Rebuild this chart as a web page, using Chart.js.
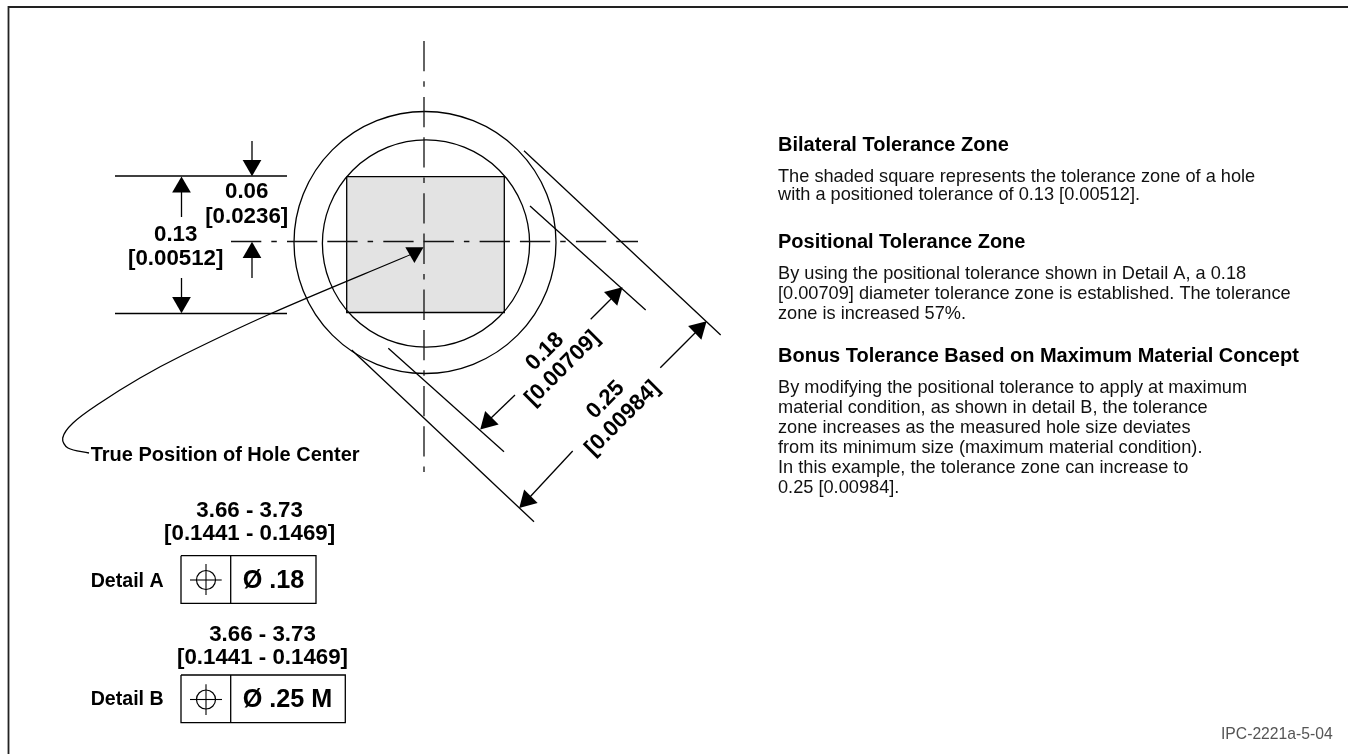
<!DOCTYPE html>
<html>
<head>
<meta charset="utf-8">
<style>html,body{margin:0;padding:0;background:#fff}canvas{display:block}</style>
<script src="https://cdn.jsdelivr.net/npm/chart.js@4/dist/chart.umd.min.js"></script>
</head>
<body>
<canvas id="c" width="1348" height="754"></canvas>
<script>
// ---- geometry, in drawing units ----
const frame = [[8.5,754],[8.5,7],[1348,7]];
const toleranceSquare = [[346.7,176.7],[504.3,176.7],[504.3,312.5],[346.7,312.5],[346.7,176.7]];
const centerLineH = [[231,241.5],[638,241.5]];
const centerLineV = [[424,41],[424,482]];
const circlesCenter = [[425,242.5]];
const innerCircleCenter = [[426,243.5]];
const extensionLines = [
  [[115,176],[287,176]], [[115,313.5],[287,313.5]],
  [[524,150.7],[720.7,335]], [[530,206],[645.7,310]],
  [[388.3,348.3],[504,451.7]], [[351.7,350],[534,521.7]]
];
const arrowStems = [
  [[252,141],[252,162]], [[252,256],[252,278]],
  [[181.5,191],[181.5,217]], [[181.5,278],[181.5,300]],
  [[590.7,319.3],[612,298]], [[515,395],[490,419]],
  [[660.3,367.7],[697,331]], [[572.7,451],[529,498]]
];
const leaderCurve = [[412,254],[270,314],[183,355],[140,378],[100,403],[73,423],[62.7,438],[68,448],[89,453]];
const arrowsDown = [[252,165.5],[181.5,302.5]];
const arrowsUp = [[252,252.5],[181.5,187.2]];
const arrowsUpRight = [[614.6,295],[698.7,329]];
const arrowsDownLeft = [[488,421.6],[527,500.1]];
const arrowLeader = [[414.4,252.4]];
const boxA = [[181,555.7],[316,555.7],[316,603.3],[181,603.3],[181,555.7]];
const boxB = [[181,675],[345.3,675],[345.3,722.7],[181,722.7],[181,675]];
const boxDividers = [[[230.7,555.7],[230.7,603.3]],[[230.7,675],[230.7,722.7]]];
const symbolCenters = [[206,580],[206,699.5]];
const symbolCross = [
  [[190,580],[221.7,580]], [[206,564],[206,595]],
  [[190,699.5],[222,699.5]], [[206,684.3],[206,715]]
];

// ---- text ----
const boldLabels = ["0.06","[0.0236]","0.13","[0.00512]","3.66 - 3.73","[0.1441 - 0.1469]","3.66 - 3.73","[0.1441 - 0.1469]"];
const boldLabelPos = [[246.7,198],[246.7,222.5],[175.7,240.7],[175.7,265],[249.6,516.7],[249.6,540],[262.5,640.7],[262.5,664.3]];
const rotatedLabels = ["0.18","[0.00709]","0.25","[0.00984]"];
const rotatedLabelPos = [[545,351.7],[562.7,368.3],[605.7,400],[622.7,418.3]];
const calloutLabels = ["True Position of Hole Center"];
const calloutPos = [[90.7,460.7]];
const detailLabels = ["Detail A","Detail B"];
const detailPos = [[90.7,586.7],[90.7,705]];
const frameLabels = ["Ø .18","Ø .25 M"];
const framePos = [[242.7,587.7],[242.7,707.3]];
const headings = ["Bilateral Tolerance Zone","Positional Tolerance Zone","Bonus Tolerance Based on Maximum Material Concept"];
const headingPos = [[778,150.7],[778,248.3],[778,361.7]];
const bodyLines = [
 "The shaded square represents the tolerance zone of a hole",
 "with a positioned tolerance of 0.13 [0.00512].",
 "By using the positional tolerance shown in Detail A, a 0.18",
 "[0.00709] diameter tolerance zone is established. The tolerance",
 "zone is increased 57%.",
 "By modifying the positional tolerance to apply at maximum",
 "material condition, as shown in detail B, the tolerance",
 "zone increases as the measured hole size deviates",
 "from its minimum size (maximum material condition).",
 "In this example, the tolerance zone can increase to",
 "0.25 [0.00984]."
];
const bodyBaselines = [181.7,200,279,299,319,392.7,412.7,432.7,452.7,472.7,492.7];
const figureId = ["IPC-2221a-5-04"];
const figureIdPos = [[1221,739]];

// ---- datasets ----
const pts = a => a.map(p => ({x:p[0],y:p[1]}));
const INK = '#000';
const line = (a,extra) => Object.assign({data:pts(a),showLine:true,borderColor:INK,borderWidth:1.3,pointRadius:0,tension:0,fill:false,clip:false,order:1},extra||{});
const marker = (a,style,r,rot) => ({data:pts(a),showLine:false,pointStyle:style,pointRadius:r,pointRotation:rot,pointBackgroundColor:INK,pointBorderColor:INK,pointBorderWidth:0,clip:false,order:0});
const ring = (a,r,w) => ({data:pts(a),showLine:false,pointStyle:'circle',pointRadius:r,pointBackgroundColor:'rgba(0,0,0,0)',pointBorderColor:INK,pointBorderWidth:w,clip:false,order:1});
const DASH = [30.3,10,5.5,10.2,30.3,10];
const datasets = [
  line(toleranceSquare,{fill:'shape',backgroundColor:'#e3e3e3',order:9}),
  line(frame,{borderColor:'#222',borderWidth:1.8}),
  line(centerLineH,{borderDash:DASH,borderColor:'#111'}),
  line(centerLineV,{borderDash:DASH,borderColor:'#111'}),
  ring(circlesCenter,131,1.3),
  ring(innerCircleCenter,103.6,1.3),
  ...extensionLines.map(s=>line(s)),
  ...arrowStems.map(s=>line(s)),
  line(leaderCurve,{tension:0.35}),
  marker(arrowsDown,'triangle',10.8,180),
  marker(arrowsUp,'triangle',10.8,0),
  marker(arrowsUpRight,'triangle',11,46),
  marker(arrowsDownLeft,'triangle',11,225),
  marker(arrowLeader,'triangle',10.5,60),
  line(boxA),line(boxB),
  ...boxDividers.map(s=>line(s)),
  ring(symbolCenters,9.5,1.2),
  ...symbolCross.map(s=>line(s,{borderWidth:1.1}))
];

const FONT = '"Liberation Sans", Arial, sans-serif';
const textPlugin = {
  id:'drawingText',
  afterDatasetsDraw(chart){
    const {ctx,scales:{x,y}} = chart;
    const put = (t,p,font,align,color,rot) => {
      ctx.save();
      ctx.font = font; ctx.fillStyle = color||'#000'; ctx.textAlign = align||'left';
      ctx.textBaseline = rot ? 'middle' : 'alphabetic';
      ctx.translate(x.getPixelForValue(p[0]),y.getPixelForValue(p[1]));
      if(rot) ctx.rotate(rot*Math.PI/180);
      ctx.fillText(t,0,0);
      ctx.restore();
    };
    boldLabels.forEach((t,i)=>put(t,boldLabelPos[i],'bold 22.3px '+FONT,'center'));
    rotatedLabels.forEach((t,i)=>put(t,rotatedLabelPos[i],'bold 22.3px '+FONT,'center','#000',-45));
    calloutLabels.forEach((t,i)=>put(t,calloutPos[i],'bold 20px '+FONT));
    detailLabels.forEach((t,i)=>put(t,detailPos[i],'bold 19.6px '+FONT));
    frameLabels.forEach((t,i)=>put(t,framePos[i],'bold 25.2px '+FONT));
    headings.forEach((t,i)=>put(t,headingPos[i],'bold 20px '+FONT));
    bodyLines.forEach((t,i)=>put(t,[778,bodyBaselines[i]],'18.2px '+FONT,'left','#111'));
    figureId.forEach((t,i)=>put(t,figureIdPos[i],'15.7px '+FONT,'left','#555'));
  }
};

new Chart(document.getElementById('c'),{
  type:'scatter',
  data:{datasets},
  plugins:[textPlugin],
  options:{
    responsive:false,animation:false,
    layout:{autoPadding:false,padding:0},
    plugins:{legend:{display:false},tooltip:{enabled:false},title:{display:false}},
    scales:{
      x:{type:'linear',display:false,min:0,max:1348},
      y:{type:'linear',display:false,min:0,max:754,reverse:true}
    }
  }
});
</script>
</body>
</html>
